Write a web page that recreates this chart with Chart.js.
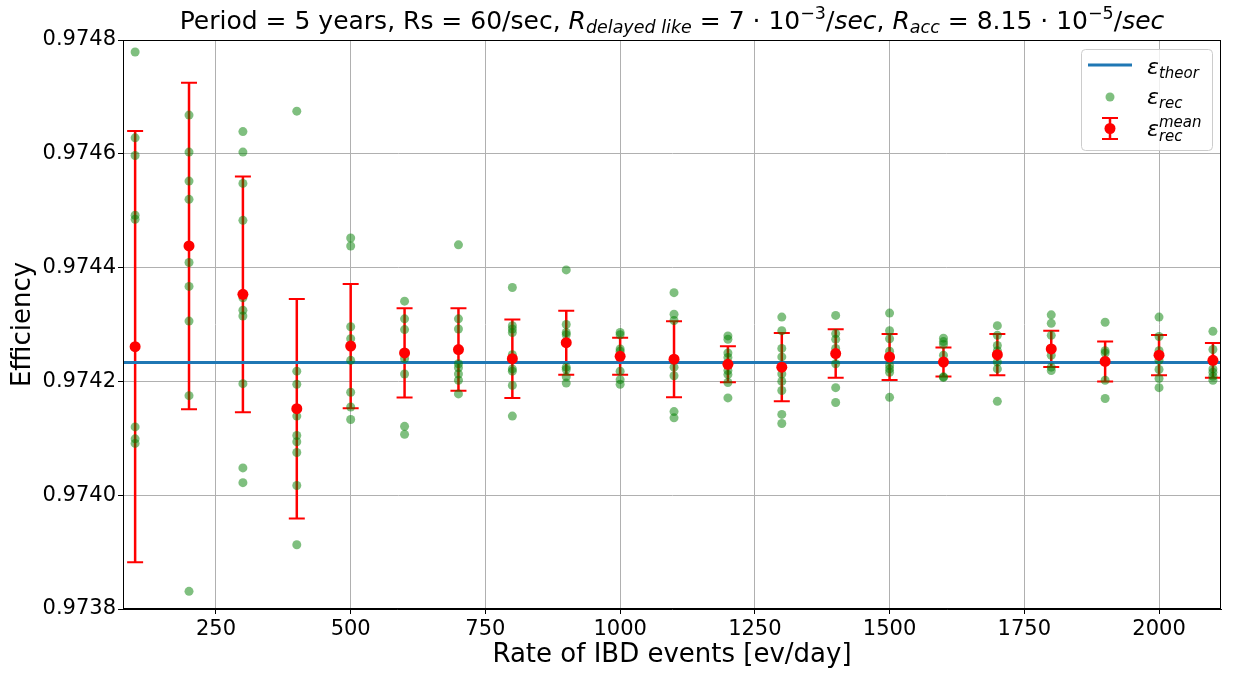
<!DOCTYPE html>
<html>
<head>
<meta charset="utf-8">
<script src="https://cdn.jsdelivr.net/npm/chart.js@4.4.0/dist/chart.umd.min.js"></script>
<style>
  body { margin: 0; background: #fff; }
  #wrap { width: 1235px; height: 673px; }
</style>
</head>
<body>
<div id="wrap"><canvas id="effChart" width="1235" height="673"></canvas></div>
<script>
'use strict';

// data
var rates = [100, 200, 300, 400, 500, 600, 700, 800, 900, 1000, 1100,
             1200, 1300, 1400, 1500, 1600, 1700, 1800, 1900, 2000, 2100];
var effTheor = 0.974233;

// green points (eps_rec), one list per rate
var recEff = [
  [0.974779, 0.974628, 0.974597, 0.974492, 0.974485, 0.974120, 0.974099, 0.974091],
  [0.974668, 0.974603, 0.974552, 0.974520, 0.974409, 0.974367, 0.974306, 0.974175, 0.973831],
  [0.974639, 0.974603, 0.974548, 0.974483, 0.974347, 0.974325, 0.974315, 0.974196, 0.974048, 0.974022],
  [0.974675, 0.974218, 0.974195, 0.974139, 0.974105, 0.974094, 0.974075, 0.974017, 0.973913],
  [0.974452, 0.974438, 0.974296, 0.974275, 0.974237, 0.974181, 0.974155, 0.974133],
  [0.974341, 0.974310, 0.974291, 0.974240, 0.974213, 0.974121, 0.974107],
  [0.974440, 0.974310, 0.974292, 0.974231, 0.974224, 0.974213, 0.974202, 0.974178],
  [0.974365, 0.974298, 0.974292, 0.974286, 0.974247, 0.974222, 0.974218, 0.974193, 0.974139],
  [0.974396, 0.974300, 0.974286, 0.974282, 0.974225, 0.974221, 0.974208, 0.974197],
  [0.974286, 0.974282, 0.974257, 0.974253, 0.974218, 0.974203, 0.974195],
  [0.974356, 0.974318, 0.974307, 0.974225, 0.974210, 0.974147, 0.974136],
  [0.974280, 0.974274, 0.974250, 0.974242, 0.974219, 0.974212, 0.974198, 0.974171],
  [0.974313, 0.974289, 0.974258, 0.974243, 0.974213, 0.974200, 0.974184, 0.974142, 0.974126],
  [0.974316, 0.974284, 0.974274, 0.974258, 0.974231, 0.974189, 0.974163],
  [0.974320, 0.974289, 0.974275, 0.974253, 0.974228, 0.974222, 0.974216, 0.974172],
  [0.974276, 0.974270, 0.974265, 0.974246, 0.974208, 0.974207],
  [0.974298, 0.974281, 0.974263, 0.974254, 0.974234, 0.974222, 0.974165],
  [0.974317, 0.974302, 0.974281, 0.974246, 0.974225, 0.974219],
  [0.974304, 0.974254, 0.974250, 0.974202, 0.974170],
  [0.974313, 0.974279, 0.974254, 0.974237, 0.974221, 0.974205, 0.974189],
  [0.974288, 0.974256, 0.974222, 0.974216, 0.974209, 0.974202]
];

// red points (eps_rec mean) and half length of the error bars
var meanEff = [0.974261, 0.974438, 0.974353, 0.974152, 0.974262, 0.974250, 0.974256,
               0.974240, 0.974268, 0.974244, 0.974239, 0.974230, 0.974225, 0.974249,
               0.974243, 0.974234, 0.974247, 0.974257, 0.974235, 0.974246, 0.974237];
var meanErr = [0.000379, 0.000287, 0.000207, 0.000193, 0.000109, 0.0000784, 0.0000725,
               0.0000690, 0.0000561, 0.0000325, 0.0000667, 0.0000316, 0.0000599, 0.0000427,
               0.0000404, 0.0000254, 0.0000363, 0.0000319, 0.0000351, 0.0000354, 0.0000304];

var xTicks = [250, 500, 750, 1000, 1250, 1500, 1750, 2000];
var yTicks = [0.9738, 0.9740, 0.9742, 0.9744, 0.9746, 0.9748];
var xMin = 77.5, xMax = 2115;

var FONT = '"DejaVu Sans", sans-serif';

var recPoints = [];
rates.forEach(function (r, i) {
  recEff[i].forEach(function (v) { recPoints.push({x: r, y: v}); });
});
var meanPoints = rates.map(function (r, i) { return {x: r, y: meanEff[i]}; });

function fontOf(s) {
  return (s.it ? 'italic ' : '') + s.sz + 'px ' + FONT;
}

// draws a row of text pieces (for the mathtext-like title)
function drawRich(ctx, segs, x, y) {
  var total = 0;
  segs.forEach(function (s) {
    ctx.font = fontOf(s);
    s.w = ctx.measureText(s.t).width;
    total += s.w;
  });
  var cx = x - total / 2;
  ctx.textAlign = 'left';
  ctx.textBaseline = 'alphabetic';
  segs.forEach(function (s) {
    ctx.font = fontOf(s);
    ctx.fillText(s.t, cx, y + (s.dy || 0));
    cx += s.w;
  });
}

var extras = {
  id: 'extras',
  beforeDatasetsDraw: function (chart) {
    // error bars
    var ctx = chart.ctx, xs = chart.scales.x, ys = chart.scales.y;
    ctx.save();
    ctx.strokeStyle = 'red';
    rates.forEach(function (r, i) {
      var px = xs.getPixelForValue(r);
      var top = ys.getPixelForValue(meanEff[i] + meanErr[i]);
      var bot = ys.getPixelForValue(meanEff[i] - meanErr[i]);
      ctx.lineWidth = 2.5;
      ctx.beginPath();
      ctx.moveTo(px, top); ctx.lineTo(px, bot);
      ctx.stroke();
      ctx.lineWidth = 2;
      ctx.beginPath();
      ctx.moveTo(px - 8, top); ctx.lineTo(px + 8, top);
      ctx.moveTo(px - 8, bot); ctx.lineTo(px + 8, bot);
      ctx.stroke();
    });
    ctx.restore();
  },
  afterDraw: function (chart) {
    var ctx = chart.ctx, a = chart.chartArea;
    ctx.save();
    // frame
    ctx.strokeStyle = '#000';
    ctx.lineWidth = 1;
    ctx.strokeRect(a.left + 0.5, a.top + 0.5, a.right - a.left - 1, a.bottom - a.top - 1);

    // title
    ctx.fillStyle = '#000';
    var T = 25, S = 17.5;
    drawRich(ctx, [
      {t: 'Period = 5 years, Rs = 60/sec, ', sz: T},
      {t: 'R', sz: T, it: true},
      {t: 'delayed like', sz: S, it: true, dy: 4},
      {t: ' = 7 \u00b7 10', sz: T},
      {t: '\u22123', sz: S, dy: -10},
      {t: '/', sz: T},
      {t: 'sec', sz: T, it: true},
      {t: ', ', sz: T},
      {t: 'R', sz: T, it: true},
      {t: 'acc', sz: S, it: true, dy: 4},
      {t: ' = 8.15 \u00b7 10', sz: T},
      {t: '\u22125', sz: S, dy: -10},
      {t: '/', sz: T},
      {t: 'sec', sz: T, it: true}
    ], (a.left + a.right) / 2, 29);

    // legend
    var lx = 1081, ly = 49, lw = 131, lh = 101;
    ctx.fillStyle = 'rgba(255,255,255,0.8)';
    ctx.strokeStyle = '#cccccc';
    ctx.beginPath();
    ctx.roundRect(lx + 0.5, ly + 0.5, lw, lh, 4);
    ctx.fill();
    ctx.stroke();

    ctx.strokeStyle = '#1f77b4';
    ctx.lineWidth = 3;
    ctx.beginPath();
    ctx.moveTo(1088, 65); ctx.lineTo(1132, 65);
    ctx.stroke();

    ctx.fillStyle = 'rgba(0,128,0,0.5)';
    ctx.beginPath();
    ctx.arc(1110, 97, 4.5, 0, Math.PI * 2);
    ctx.fill();

    ctx.strokeStyle = 'red';
    ctx.lineWidth = 2.5;
    ctx.beginPath();
    ctx.moveTo(1110, 118); ctx.lineTo(1110, 139);
    ctx.stroke();
    ctx.lineWidth = 2;
    ctx.beginPath();
    ctx.moveTo(1102, 118); ctx.lineTo(1118, 118);
    ctx.moveTo(1102, 139); ctx.lineTo(1118, 139);
    ctx.stroke();
    ctx.fillStyle = 'red';
    ctx.beginPath();
    ctx.arc(1110, 128.5, 5.5, 0, Math.PI * 2);
    ctx.fill();

    ctx.fillStyle = '#000';
    ctx.textAlign = 'left';
    ctx.textBaseline = 'alphabetic';
    var E = 22, s = 15;
    ctx.font = 'italic ' + E + 'px ' + FONT;
    var ew = ctx.measureText('\u03b5').width;
    ctx.fillText('\u03b5', 1147, 74);
    ctx.fillText('\u03b5', 1147, 104);
    ctx.fillText('\u03b5', 1147, 136);
    ctx.font = 'italic ' + s + 'px ' + FONT;
    ctx.fillText('theor', 1147 + ew, 78);
    ctx.fillText('rec', 1147 + ew, 108);
    ctx.fillText('mean', 1147 + ew, 127);
    ctx.fillText('rec', 1147 + ew, 141);
    ctx.restore();
  }
};

var ctx = document.getElementById('effChart').getContext('2d');
var effChart = new Chart(ctx, {
  type: 'scatter',
  data: {
    datasets: [{
      label: 'eps_rec_mean',
      data: meanPoints,
      backgroundColor: 'red',
      borderWidth: 0,
      pointRadius: 5.5,
      order: 0
    }, {
      label: 'eps_rec',
      data: recPoints,
      backgroundColor: 'rgba(0,128,0,0.5)',
      borderWidth: 0,
      pointRadius: 4.5,
      order: 1
    }, {
      label: 'eps_theor',
      data: [{x: xMin, y: effTheor}, {x: xMax, y: effTheor}],
      showLine: true,
      borderColor: '#1f77b4',
      borderWidth: 3,
      pointRadius: 0,
      order: 2
    }]
  },
  options: {
    responsive: false,
    animation: false,
    devicePixelRatio: 1,
    layout: {padding: {top: 40, right: 14, left: 0, bottom: 0}},
    plugins: {
      legend: {display: false},
      tooltip: {enabled: false}
    },
    scales: {
      x: {
        type: 'linear',
        min: xMin,
        max: xMax,
        afterBuildTicks: function (scale) {
          scale.ticks = xTicks.map(function (v) { return {value: v}; });
        },
        afterFit: function (scale) { scale.height = 64; },
        ticks: {
          color: '#000',
          padding: 3,
          maxRotation: 0,
          font: {family: FONT, size: 21},
          callback: function (v) { return String(v); }
        },
        grid: {color: '#b0b0b0', lineWidth: 1, tickColor: '#000', tickLength: 5},
        border: {color: '#000', width: 1},
        title: {
          display: true,
          text: 'Rate of IBD events [ev/day]',
          color: '#000',
          font: {family: FONT, size: 26},
          padding: {top: 0, bottom: 2}
        }
      },
      y: {
        type: 'linear',
        min: 0.9738,
        max: 0.9748,
        afterBuildTicks: function (scale) {
          scale.ticks = yTicks.map(function (v) { return {value: v}; });
        },
        afterFit: function (scale) { scale.width = 123; },
        ticks: {
          color: '#000',
          padding: 2,
          font: {family: FONT, size: 21},
          callback: function (v) { return v.toFixed(4); }
        },
        grid: {color: '#b0b0b0', lineWidth: 1, tickColor: '#000', tickLength: 5},
        border: {color: '#000', width: 1},
        title: {
          display: true,
          text: 'Efficiency',
          color: '#000',
          font: {family: FONT, size: 26},
          padding: {top: 8, bottom: 0}
        }
      }
    }
  },
  plugins: [extras]
});
</script>
</body>
</html>
